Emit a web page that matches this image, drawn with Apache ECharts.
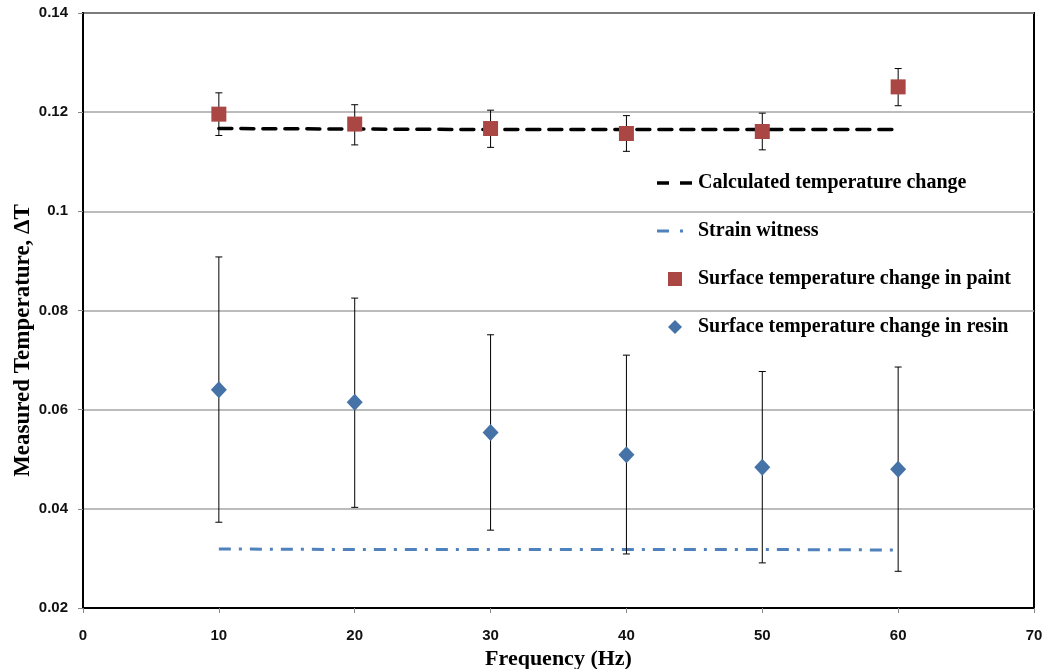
<!DOCTYPE html>
<html>
<head>
<meta charset="utf-8">
<script src="https://cdn.jsdelivr.net/npm/echarts@6/dist/echarts.min.js"></script>
<style>html,body{margin:0;padding:0;background:#fff}#c{width:1047px;height:669px}</style>
</head>
<body>
<div id="c"></div>
<script>
const frequencies = [10, 20, 30, 40, 50, 60];
const calculated = [0.1167, 0.1166, 0.1165, 0.1165, 0.1165, 0.1165];
const strainWitness = [0.0319, 0.0318, 0.0318, 0.0318, 0.0318, 0.0317];
const paint = [0.1196, 0.1176, 0.1167, 0.1157, 0.1161, 0.1251];
const paintLow = [0.1153, 0.1134, 0.1129, 0.1121, 0.1124, 0.1213];
const paintHigh = [0.1239, 0.1215, 0.1204, 0.1193, 0.1198, 0.1288];
const resin = [0.0640, 0.0615, 0.0554, 0.0509, 0.0484, 0.0480];
const resinLow = [0.0373, 0.0403, 0.0357, 0.0309, 0.0291, 0.0274];
const resinHigh = [0.0908, 0.0825, 0.0751, 0.0710, 0.0677, 0.0686];
const names = ['Calculated temperature change', 'Strain witness', 'Surface temperature change in paint', 'Surface temperature change in resin'];

const pairs = (xs, ys) => xs.map((x, i) => [x, ys[i]]);
const errData = (lo, hi) => frequencies.map((x, i) => [x, lo[i], hi[i]]);

function errorRender(params, api) {
  const x = api.value(0);
  const lo = api.coord([x, api.value(1)]);
  const hi = api.coord([x, api.value(2)]);
  const cap = 3.5;
  const st = { stroke: '#000', lineWidth: 1 };
  return {
    type: 'group',
    children: [
      { type: 'line', shape: { x1: lo[0], y1: lo[1], x2: hi[0], y2: hi[1] }, style: st },
      { type: 'line', shape: { x1: lo[0] - cap, y1: lo[1], x2: lo[0] + cap, y2: lo[1] }, style: st },
      { type: 'line', shape: { x1: hi[0] - cap, y1: hi[1], x2: hi[0] + cap, y2: hi[1] }, style: st }
    ]
  };
}

const tickFont = { fontFamily: 'Liberation Sans', fontWeight: 'bold', fontSize: 15, color: '#111' };
const titleFont = { fontFamily: 'Liberation Serif', fontWeight: 'bold', fontSize: 22, color: '#000' };

const chart = echarts.init(document.getElementById('c'));
chart.setOption({
  animation: false,
  backgroundColor: '#fff',
  grid: { left: 83, right: 13, top: 13, bottom: 61, show: true, borderColor: '#000', borderWidth: 2, outerBoundsMode: 'none', containLabel: false },
  legend: {
    orient: 'vertical',
    left: 652,
    top: 168,
    itemWidth: 36,
    itemHeight: 14,
    itemGap: 28,
    symbolKeepAspect: true,
    textStyle: { fontFamily: 'Liberation Serif', fontWeight: 'bold', fontSize: 20, color: '#000' },
    data: [
      { name: names[0], icon: 'path://M0,0H12V3.5H0Z M23,0H35V3.5H23Z M36,0L36,0', itemStyle: { color: '#000' } },
      { name: names[1], icon: 'path://M0,0H12V3H0Z M23,0H26V3H23Z M36,0L36,0', itemStyle: { color: '#4f81bd' } },
      { name: names[2], icon: 'path://M0,0H10V10H0Z', itemStyle: { color: '#aa4643' } },
      { name: names[3], icon: 'path://M5,0L10,5L5,10L0,5Z', itemStyle: { color: '#4572a7' } }
    ]
  },
  xAxis: {
    type: 'value', min: 0, max: 70, interval: 10,
    name: 'Frequency (Hz)', nameLocation: 'middle', nameGap: 37, nameTextStyle: titleFont,
    axisLine: { lineStyle: { color: '#000', width: 2 } },
    axisTick: { show: true, length: 5, lineStyle: { color: '#888' } },
    axisLabel: Object.assign({ margin: 20 }, tickFont),
    splitLine: { show: false }
  },
  yAxis: {
    type: 'value', min: 0.02, max: 0.14, interval: 0.02,
    name: 'Measured Temperature, ΔT', nameLocation: 'middle', nameGap: 48, nameMoveOverlap: false,
    nameTextStyle: Object.assign({}, titleFont, { fontSize: 23, padding: [0, 60, 0, 0] }),
    axisLine: { show: true, lineStyle: { color: '#000', width: 2 } },
    axisTick: { show: true, length: 5, lineStyle: { color: '#888' } },
    axisLabel: Object.assign({ margin: 15 }, tickFont),
    splitLine: { show: true, lineStyle: { color: '#a6a6a6', width: 1.5 } }
  },
  series: [
    {
      name: names[0], type: 'line', data: pairs(frequencies, calculated), symbol: 'none',
      lineStyle: { color: '#000', width: 3.5, type: [13, 9], cap: 'round' }, itemStyle: { color: '#000' }, z: 3
    },
    {
      name: names[1], type: 'line', data: pairs(frequencies, strainWitness), symbol: 'none',
      lineStyle: { color: '#4f81bd', width: 3, type: [12, 8, 3, 8] }, itemStyle: { color: '#4f81bd' }, z: 3
    },
    { type: 'custom', renderItem: errorRender, data: errData(paintLow, paintHigh), z: 4, silent: true },
    { type: 'custom', renderItem: errorRender, data: errData(resinLow, resinHigh), z: 4, silent: true },
    {
      name: names[2], type: 'scatter', data: pairs(frequencies, paint), symbol: 'rect', symbolSize: 15,
      itemStyle: { color: '#aa4643', opacity: 1 }, z: 5
    },
    {
      name: names[3], type: 'scatter', data: pairs(frequencies, resin), symbol: 'diamond', symbolSize: [16, 17],
      itemStyle: { color: '#4572a7', opacity: 1 }, z: 5
    }
  ]
});
</script>
</body>
</html>
